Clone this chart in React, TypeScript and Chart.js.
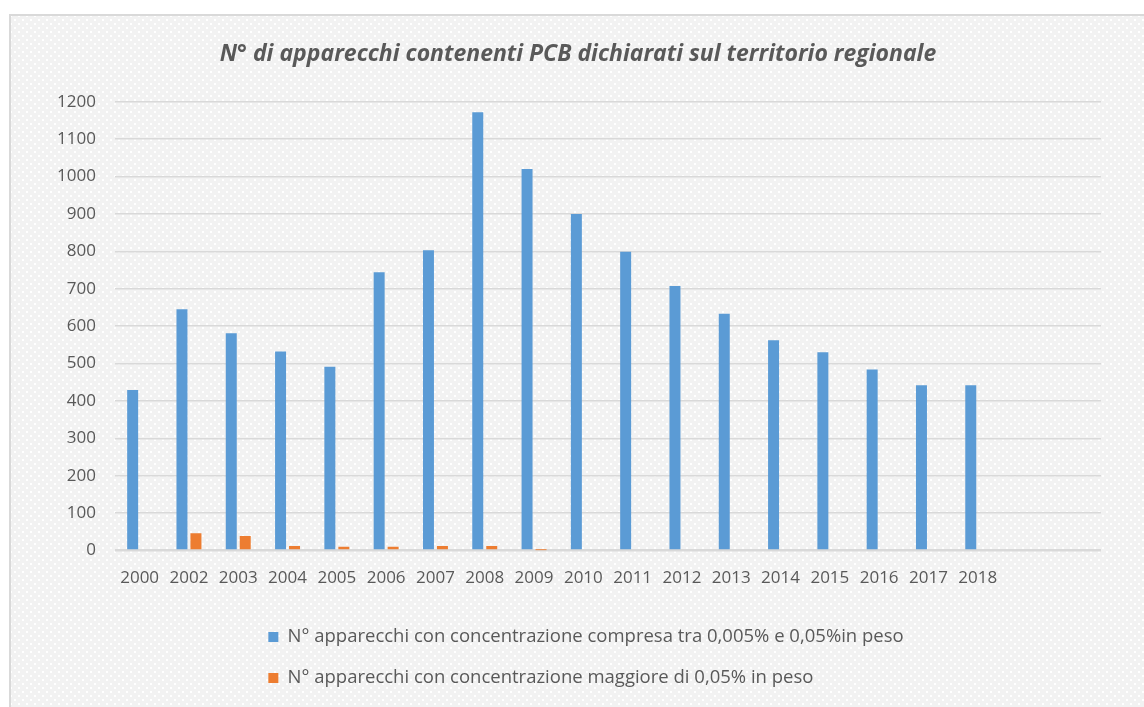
import React, { useEffect, useRef } from 'react';
import { Chart, registerables } from 'chart.js';

Chart.register(...registerables);

const chartTitle = 'N° di apparecchi contenenti PCB dichiarati sul territorio regionale';

const categories = [
  '2000', '2002', '2003', '2004', '2005', '2006', '2007', '2008', '2009', '2010',
  '2011', '2012', '2013', '2014', '2015', '2016', '2017', '2018', '', '',
];

const lowConcLabel = 'N° apparecchi con concentrazione compresa tra 0,005% e 0,05%in peso';
const lowConcValues = [
  429, 645, 581, 532, 491, 744, 803, 1172, 1020, 900,
  799, 707, 633, 562, 530, 484, 442, 442, null, null,
];

const highConcLabel = 'N° apparecchi con concentrazione maggiore di 0,05% in peso';
const highConcValues = [
  0, 46, 39, 12, 10, 10, 12, 12, 1, 0,
  0, 0, 0, 0, 0, 0, 0, 0, null, null,
];

const yMin = 0;
const yMax = 1200;
const yStep = 100;

const TEXT = '#595959';
const GRID = '#d9d9d9';
const FONT = "'Open Sans', sans-serif";

const legendBlock = {
  id: 'legendBlock',
  afterLayout(chart: any) {
    const lg = chart.legend;
    if (!lg || !lg.lineWidths || !lg.lineWidths.length) return;
    const pad = lg.options.labels.padding;
    const widest = Math.max(...lg.lineWidths);
    const center = (lg.left + lg.right) / 2 + 8;
    lg.left = center - widest / 2 - pad / 2;
  },
};

export default function App() {
  const canvasRef = useRef<HTMLCanvasElement | null>(null);

  useEffect(() => {
    if (!canvasRef.current) return;
    const chart = new Chart(canvasRef.current, {
      type: 'bar',
      data: {
        labels: categories,
        datasets: [
          {
            label: lowConcLabel,
            data: lowConcValues,
            backgroundColor: '#5b9bd5',
            borderWidth: 0,
            categoryPercentage: 0.567,
            barPercentage: 0.786,
          },
          {
            label: highConcLabel,
            data: highConcValues,
            backgroundColor: '#ed7d31',
            borderWidth: 0,
            categoryPercentage: 0.567,
            barPercentage: 0.786,
          },
        ],
      },
      options: {
        animation: false,
        responsive: true,
        maintainAspectRatio: false,
        layout: { padding: { left: 44, right: 52, top: 0, bottom: 9.75 } },
        plugins: {
          tooltip: { enabled: false },
          title: {
            display: true,
            text: chartTitle,
            color: TEXT,
            font: { family: FONT, size: 23, weight: 'bold', style: 'italic' },
            padding: { top: 24.2, bottom: 33.9 },
          },
          legend: {
            display: true,
            position: 'bottom',
            align: 'start',
            labels: {
              color: TEXT,
              font: { family: FONT, size: 18.5 },
              boxWidth: 10,
              boxHeight: 10,
              padding: 22.5,
            },
          },
        },
        scales: {
          x: {
            grid: { display: false, drawTicks: false },
            border: { display: false },
            ticks: {
              color: TEXT,
              font: { family: FONT, size: 17 },
              padding: 17,
              maxRotation: 0,
              autoSkip: false,
            },
            afterFit: (scale: any) => {
              scale.height = 54.75;
            },
          },
          y: {
            min: yMin,
            max: yMax,
            grid: {
              color: GRID,
              lineWidth: (ctx: any) => (ctx.tick && ctx.tick.value === 0 ? 2.4 : 1.6),
              drawTicks: false,
            },
            border: { display: false },
            ticks: {
              stepSize: yStep,
              color: TEXT,
              font: { family: FONT, size: 17 },
              padding: 19,
              callback: (value: any) => String(value),
            },
            afterFit: (scale: any) => {
              scale.width = 60;
            },
          },
        },
      },
      plugins: [legendBlock],
    });
    return () => chart.destroy();
  }, []);

  return (
    <div
      style={{
        position: 'fixed',
        left: 9,
        top: 14,
        width: 1135,
        height: 693,
        boxSizing: 'border-box',
        borderLeft: `2px solid ${GRID}`,
        borderTop: `2px solid ${GRID}`,
        overflow: 'hidden',
        backgroundColor: '#f2f2f2',
        backgroundImage:
          'radial-gradient(circle, #ffffff 0.9px, transparent 1.3px), radial-gradient(circle, #ffffff 0.9px, transparent 1.3px)',
        backgroundSize: '8px 8px, 8px 8px',
        backgroundPosition: '0 0, 4px 4px',
      }}
    >
      <div style={{ position: 'relative', width: 1142, height: 691 }}>
        <canvas ref={canvasRef} />
      </div>
    </div>
  );
}
